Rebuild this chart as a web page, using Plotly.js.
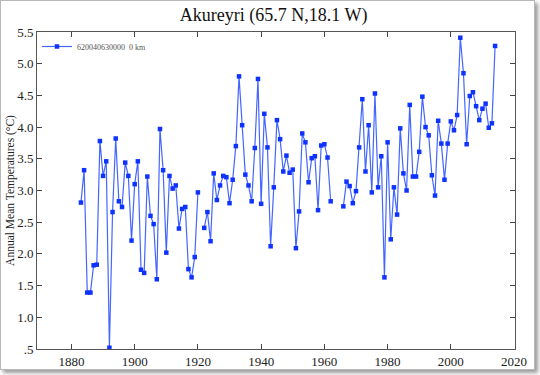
<!DOCTYPE html>
<html>
<head>
<meta charset="utf-8">
<script src="https://cdn.plot.ly/plotly-3.0.1.min.js"></script>
<style>
html,body{margin:0;padding:0;background:#fff;}
#wrap{position:relative;width:540px;height:375px;overflow:hidden;}
#chart{position:absolute;left:0;top:0;width:540px;height:375px;}
#frame{position:absolute;left:0;top:0;width:533px;height:368px;border:1px solid #b8b8b8;box-shadow:3px 3px 4px #9a9a9a;pointer-events:none;}
</style>
</head>
<body>
<div id="wrap"><div id="chart"></div><div id="frame"></div></div>
<script>
const years = [1883,1884,1885,1886,1887,1888,1889,1890,1891,1892,1893,1894,1895,1896,1897,1898,1899,1900,1901,1902,1903,1904,1905,1906,1907,1908,1909,1910,1911,1912,1913,1914,1915,1916,1917,1918,1919,1920,1921,1922,1923,1924,1925,1926,1927,1928,1929,1930,1931,1932,1933,1934,1935,1936,1937,1938,1939,1940,1941,1942,1943,1944,1945,1946,1947,1948,1949,1950,1951,1952,1953,1954,1955,1956,1957,1958,1959,1960,1961,1962,1963,1964,1965,1966,1967,1968,1969,1970,1971,1972,1973,1974,1975,1976,1977,1978,1979,1980,1981,1982,1983,1984,1985,1986,1987,1988,1989,1990,1991,1992,1993,1994,1995,1996,1997,1998,1999,2000,2001,2002,2003,2004,2005,2006,2007,2008,2009,2010,2011,2012,2013,2014];
const temps = [2.81,3.32,1.39,1.39,1.82,1.83,3.78,3.23,3.46,0.52,2.66,3.82,2.83,2.74,3.44,3.23,2.21,3.10,3.46,1.75,1.70,3.22,2.60,2.47,1.60,3.97,3.32,2.02,3.23,3.03,3.08,2.40,2.71,2.74,1.76,1.63,1.95,2.97,null,2.41,2.66,2.20,3.27,2.85,3.08,3.23,3.21,2.80,3.17,3.70,4.80,4.03,3.25,3.08,2.83,3.67,4.76,2.79,4.21,3.68,2.12,3.05,4.11,3.81,3.30,3.55,3.28,3.33,2.09,2.67,3.90,3.76,3.13,3.51,3.54,2.69,3.71,3.73,3.52,2.83,null,null,null,2.75,3.14,3.07,2.80,2.99,3.68,4.44,3.30,4.03,2.97,4.53,3.05,3.54,1.63,3.76,2.23,3.05,2.62,3.98,3.27,3.00,4.35,3.22,3.22,3.61,4.48,4.00,3.87,3.24,2.92,4.10,3.74,3.17,3.74,4.09,3.95,4.19,5.41,4.85,3.73,4.49,4.55,4.33,4.11,4.29,4.37,3.99,4.06,5.28];
const seriesName = '620040630000  0 km';
const xTicks = [1880,1900,1920,1940,1960,1980,2000,2020];
const yTickVals = [0.5,1.0,1.5,2.0,2.5,3.0,3.5,4.0,4.5,5.0,5.5];
const yTickText = ['.5','1.0','1.5','2.0','2.5','3.0','3.5','4.0','4.5','5.0','5.5'];

const serif = 'Liberation Serif, Times New Roman, serif';
const trace = {
  x: years, y: temps, type: 'scatter', mode: 'lines+markers', name: seriesName,
  connectgaps: false,
  line: {color: '#4466ff', width: 1.2},
  marker: {symbol: 'square', size: 4.5, color: '#0f33ff'}
};
const axisCommon = {
  showgrid: false, zeroline: false, showline: true, linecolor: '#555', linewidth: 1,
  mirror: 'ticks', ticks: 'inside', ticklen: 5, tickcolor: '#444', tickwidth: 1,
  tickfont: {family: serif, size: 13, color: '#222'}
};
const layout = {
  width: 540, height: 375,
  margin: {l: 37, r: 24.5, t: 31.6, b: 26.3},
  paper_bgcolor: '#fff', plot_bgcolor: '#fff',
  title: {text: 'Akureyri (65.7 N,18.1 W)', font: {family: serif, size: 18, color: '#111'}, x: 0.495, xref: 'paper', y: 0.96, yref: 'container', yanchor: 'middle'},
  xaxis: Object.assign({}, axisCommon, {range: [1869.1, 2020.3], tickvals: xTicks, ticktext: xTicks.map(String)}),
  yaxis: Object.assign({}, axisCommon, {range: [0.5, 5.5], tickvals: yTickVals, ticktext: yTickText,
    title: {text: 'Annual Mean Temperatures (°C)', font: {family: serif, size: 11.5, color: '#222'}, standoff: 0}}),
  showlegend: true,
  legend: {x: 0, y: 1, xanchor: 'left', yanchor: 'top', bgcolor: 'rgba(0,0,0,0)', borderwidth: 0,
    font: {family: serif, size: 8, color: '#555'}, itemwidth: 30, tracegroupgap: 0},
};
Plotly.newPlot('chart', [trace], layout, {staticPlot: true, displayModeBar: false});
</script>
</body>
</html>
